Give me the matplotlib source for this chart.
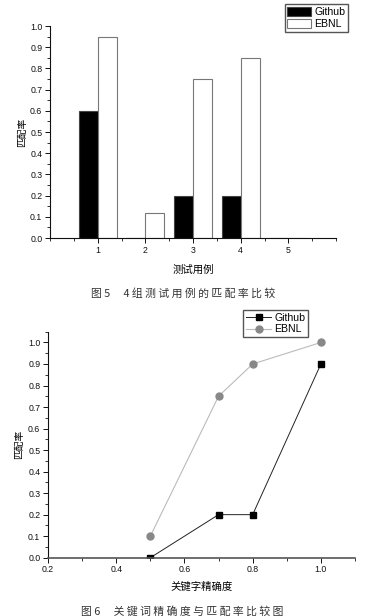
import numpy as np
import matplotlib
matplotlib.use("Agg")
import matplotlib.pyplot as plt
from matplotlib.ticker import MultipleLocator, FormatStrFormatter

plt.rcParams['font.family'] = ['Liberation Sans', 'Noto Sans CJK SC']
CJK = ['Noto Sans CJK SC', 'DejaVu Sans']

# 图5 数据
cases = [1, 2, 3, 4, 5]
github_bar = [0.6, 0.0, 0.2, 0.2, 0.0]
ebnl_bar = [0.95, 0.12, 0.75, 0.85, 0.0]

# 图6 数据
precision = [0.5, 0.7, 0.8, 1.0]
github_line = [0.0, 0.2, 0.2, 0.9]
ebnl_line = [0.1, 0.75, 0.9, 1.0]

fig = plt.figure(figsize=(3.82, 6.16), dpi=100)
W, H = 382.0, 616.0


def style_axes(ax):
    for s in ['top', 'right']:
        ax.spines[s].set_visible(False)
    for s in ['left', 'bottom']:
        ax.spines[s].set_linewidth(0.8)
        ax.spines[s].set_color('#111111')
    ax.tick_params(which='major', direction='out', length=3.5, width=0.7,
                   labelsize=6.3, pad=2, colors='#111111')
    ax.tick_params(which='minor', direction='out', length=2, width=0.6,
                   colors='#111111')


# ---- 上图: 柱状图
ax1 = fig.add_axes([50 / W, 1 - 238 / H, 286 / W, 212 / H])
x = np.array(cases)
ax1.bar(x - 0.2, github_bar, width=0.4, color='black', edgecolor='#444444',
        linewidth=0.8, label='Github')
ax1.bar(x + 0.2, ebnl_bar, width=0.4, color='white', edgecolor='#777777',
        linewidth=0.8, label='EBNL')
ax1.set_xlim(0, 6)
ax1.set_ylim(0, 1.0)
ax1.set_xticks(cases)
ax1.xaxis.set_minor_locator(MultipleLocator(0.5))
ax1.yaxis.set_major_locator(MultipleLocator(0.1))
ax1.yaxis.set_minor_locator(MultipleLocator(0.05))
ax1.yaxis.set_major_formatter(FormatStrFormatter('%.1f'))
style_axes(ax1)
ax1.set_ylabel('匹配率', family=CJK, fontsize=7, labelpad=2)
ax1.set_xlabel('测试用例', family=CJK, fontsize=7.5, labelpad=7)
fig.legend(*ax1.get_legend_handles_labels(), loc='upper right',
           bbox_to_anchor=(348 / W, 1 - 4 / H), fontsize=7.6, frameon=True,
           fancybox=False, edgecolor='#555555', framealpha=1,
           handlelength=2.2, handleheight=1.0, handletextpad=0.35,
           borderpad=0.25, labelspacing=0.15, borderaxespad=0)
fig.text(183 / W, 1 - 293 / H, '图 5 　4 组 测 试 用 例 的 匹 配 率 比 较',
         family=CJK, fontsize=7.8, color='#333333', ha='center', va='center')

# ---- 下图: 折线图
ax2 = fig.add_axes([48 / W, 1 - 557.7 / H, 307 / W, 226 / H])
ax2.plot(precision, github_line, color='#222222', linewidth=0.7,
         marker='s', markersize=4, markerfacecolor='black',
         markeredgecolor='black', label='Github')
ax2.plot(precision, ebnl_line, color='#bbbbbb', linewidth=0.8,
         marker='o', markersize=5, markerfacecolor='#888888',
         markeredgecolor='#888888', label='EBNL')
ax2.set_xlim(0.2, 1.1)
ax2.set_ylim(0, 1.05)
ax2.xaxis.set_major_locator(MultipleLocator(0.2))
ax2.xaxis.set_minor_locator(MultipleLocator(0.1))
ax2.yaxis.set_major_locator(MultipleLocator(0.1))
ax2.yaxis.set_minor_locator(MultipleLocator(0.05))
ax2.xaxis.set_major_formatter(FormatStrFormatter('%.1f'))
ax2.yaxis.set_major_formatter(FormatStrFormatter('%.1f'))
style_axes(ax2)
ax2.spines['bottom'].set_linewidth(1.2)
ax2.spines['bottom'].set_color('#555555')
ax2.set_ylabel('匹配率', family=CJK, fontsize=7, labelpad=3)
ax2.set_xlabel('关键字精确度', family=CJK, fontsize=7.5, labelpad=5)
fig.legend(*ax2.get_legend_handles_labels(), loc='upper right',
           bbox_to_anchor=(308 / W, 1 - 310 / H), fontsize=7.6, frameon=True,
           fancybox=False, edgecolor='#555555', framealpha=1,
           handlelength=2.4, handletextpad=0.3, borderpad=0.25,
           labelspacing=0.15, borderaxespad=0)
fig.text(182 / W, 1 - 611 / H, '图 6 　关 键 词 精 确 度 与 匹 配 率 比 较 图',
         family=CJK, fontsize=7.8, color='#333333', ha='center', va='center')

fig.savefig('out.png', dpi=100, facecolor='white')
